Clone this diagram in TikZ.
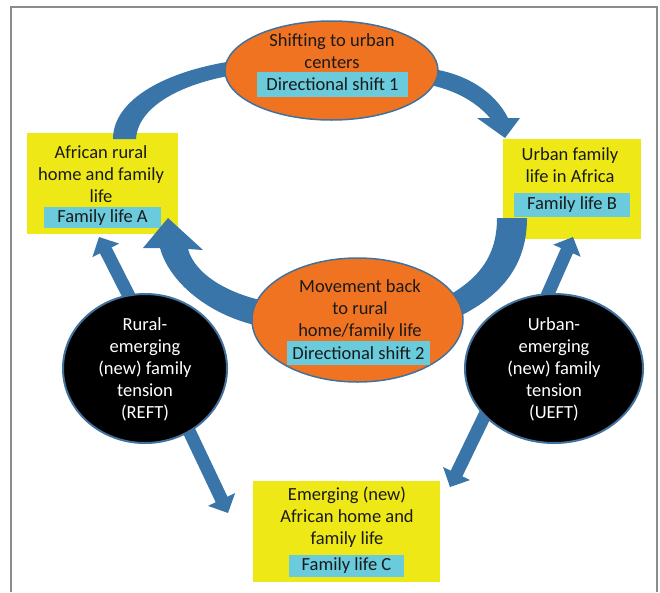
\documentclass[tikz,border=0pt]{standalone}
\usepackage{fontspec}
\setmainfont{Carlito}
\usetikzlibrary{shapes.geometric,calc}
\definecolor{orng}{HTML}{F07322}
\definecolor{yel}{HTML}{EEE916}
\definecolor{cyn}{HTML}{69CBDB}
\definecolor{arrb}{HTML}{3975A8}
\definecolor{bord}{HTML}{41719C}
\definecolor{txtc}{HTML}{1A1A1A}
\definecolor{frm}{HTML}{8C8C8C}
\newcommand{\mainfs}{\fontsize{18.5}{22}\selectfont}
\newcommand{\blkarrow}[2]{%
  \coordinate (#2base) at ($(#2)!15pt!(#1)$);
  \coordinate (#2shaft) at ($(#2)!14pt!(#1)$);
  \draw[shaftline] (#1) -- (#2shaft);
  \fill[arrb] (#2) -- ($(#2base)!15pt!90:(#2)$) -- ($(#2base)!15pt!-90:(#2)$) -- cycle;}
\begin{document}
\begin{tikzpicture}[x=1pt,y=-1pt,
  ybox/.style={rectangle, fill=yel, draw=none, inner sep=0},
  lbl/.style={rectangle, fill=cyn, draw=none, inner sep=0, text=txtc, font=\mainfs},
  txt/.style={align=center, inner sep=0, text=txtc, font=\mainfs},
  wtxt/.style={txt, text=white},
  oval/.style={ellipse, fill=orng, draw=bord, line width=1.5pt, inner sep=0},
  dark/.style={ellipse, fill=black, draw=bord, line width=2pt, inner sep=0},
  band/.style={fill=arrb},
  shaftline/.style={draw=arrb, line width=13pt}]
\useasboundingbox (0,0) rectangle (660,592);
% frame
\draw[frm, line width=1.2pt] (11,592) -- (11,7) -- (657,7) -- (657,592);

% yellow boxes
\node[ybox, minimum width=151, minimum height=101] (A) at (102.5,183.5) {};
\node[txt] (tA) at (101,174.5) {African rural\\home and family\\life};
\node[lbl, minimum width=117, minimum height=21] (lA) at (102.5,217.5) {Family life A};

\node[ybox, minimum width=138, minimum height=100] (B) at (572,189) {};
\node[txt] (tB) at (570,165) {Urban family\\life in Africa};
\node[lbl, minimum width=116, minimum height=24] (lB) at (572,205) {Family life B};

\node[ybox, minimum width=187, minimum height=101] (C) at (346.5,531.5) {};
\node[txt] (tC) at (347,517.5) {Emerging (new)\\African home and\\family life};
\node[lbl, minimum width=115, minimum height=22] (lC) at (346.5,566) {Family life C};

% curved band arrows
\fill[band] (113,139) .. controls (113,100) and (165,70) .. (240,60)
  -- (240,74) .. controls (185,82) and (138,105) .. (136,139) -- cycle;
\fill[band] (425,68) .. controls (465,72) and (495,92) .. (508,118)
  -- (520,118) -- (505,138) -- (477,118) -- (490,118)
  .. controls (478,104) and (458,90) .. (425,84) -- cycle;
\fill[band] (497,218) .. controls (497,255) and (480,280) .. (440,300)
  -- (440,325) .. controls (490,305) and (527,275) .. (527,218) -- cycle;
\fill[band] (270,302) .. controls (230,295) and (195,275) .. (188,249)
  -- (203,250) -- (168,218) -- (143,248) -- (160,248)
  .. controls (170,285) and (215,320) .. (270,328) -- cycle;

% straight arrows
\coordinate (rA) at (131,300);  \coordinate (hA) at (99,237);
\coordinate (rC) at (182,416);  \coordinate (hC1) at (228,513);
\coordinate (uC) at (497,390);  \coordinate (hC2) at (450,487);
\coordinate (uB) at (543,305);  \coordinate (hB) at (573,237);
\blkarrow{rA}{hA}
\blkarrow{rC}{hC1}
\blkarrow{uC}{hC2}
\blkarrow{uB}{hB}

% orange ellipses
\node[oval, minimum width=213, minimum height=99] (E1) at (331.5,70.5) {};
\node[txt] (tE1) at (332,51) {Shifting to urban\\centers};
\node[lbl, minimum width=151, minimum height=25] (lE1) at (332.5,84.5) {Directional shift 1};

\node[oval, minimum width=211, minimum height=124] (E2) at (357.5,320) {};
\node[txt] (tE2) at (360,309.5) {Movement back\\to rural\\home/family life};
\node[lbl, minimum width=143, minimum height=24] (lE2) at (358.5,353) {Directional shift 2};

% black circles
\node[dark, minimum width=164, minimum height=149] (R) at (145,368.5) {};
\node[wtxt] (tR) at (145,369) {Rural-\\emerging\\(new) family\\tension\\(REFT)};
\node[dark, minimum width=178, minimum height=149] (U) at (554,368.5) {};
\node[wtxt] (tU) at (554,369) {Urban-\\emerging\\(new) family\\tension\\(UEFT)};
\end{tikzpicture}
\end{document}
